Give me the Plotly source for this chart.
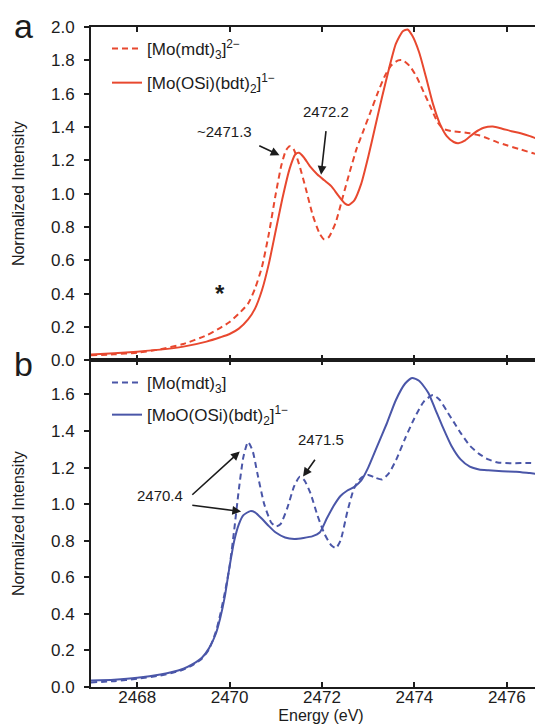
import plotly.graph_objects as go

# ---------------- data ----------------
# Panel a, [Mo(OSi)(bdt)2]1-  (solid)
energy_a_solid = [2467.0, 2467.5, 2468.0, 2468.5, 2469.0, 2469.5, 2469.8, 2470.0, 2470.2, 2470.4,
                  2470.55, 2470.7, 2470.85, 2471.0, 2471.15, 2471.3, 2471.42, 2471.5, 2471.6, 2471.75,
                  2471.9, 2472.05, 2472.2, 2472.35, 2472.5, 2472.58, 2472.7, 2472.85, 2473.0, 2473.15,
                  2473.3, 2473.45, 2473.6, 2473.75, 2473.85, 2473.95, 2474.1, 2474.25, 2474.4, 2474.55,
                  2474.7, 2474.85, 2474.95, 2475.1, 2475.3, 2475.5, 2475.7, 2475.9, 2476.1, 2476.3,
                  2476.5, 2476.7, 2476.96]
intensity_a_solid = [0.035, 0.042, 0.052, 0.064, 0.082, 0.112, 0.138, 0.158, 0.19, 0.245,
                     0.31, 0.42, 0.58, 0.78, 0.98, 1.15, 1.235, 1.245, 1.22, 1.16,
                     1.115, 1.08, 1.045, 0.99, 0.94, 0.932, 0.96, 1.06, 1.22, 1.40,
                     1.58, 1.75, 1.90, 1.975, 1.985, 1.95, 1.85, 1.70, 1.54, 1.42,
                     1.345, 1.31, 1.303, 1.32, 1.365, 1.395, 1.403, 1.39, 1.375, 1.362,
                     1.345, 1.325, 1.30]

# Panel a, [Mo(mdt)3]2-  (dashed)
energy_a_dash = [2467.0, 2467.5, 2468.0, 2468.5, 2469.0, 2469.5, 2469.8, 2470.0, 2470.2, 2470.4,
                 2470.55, 2470.7, 2470.85, 2471.0, 2471.12, 2471.22, 2471.3, 2471.38, 2471.5, 2471.65,
                 2471.8, 2471.95, 2472.05, 2472.15, 2472.3, 2472.45, 2472.6, 2472.75, 2472.9, 2473.05,
                 2473.2, 2473.35, 2473.5, 2473.65, 2473.75, 2473.9, 2474.05, 2474.2, 2474.35, 2474.5,
                 2474.62, 2474.8, 2475.0, 2475.2, 2475.4, 2475.6, 2475.8, 2476.0, 2476.3, 2476.6,
                 2476.96]
intensity_a_dash = [0.03, 0.036, 0.046, 0.066, 0.098, 0.15, 0.195, 0.23, 0.28, 0.34,
                    0.43, 0.56, 0.76, 1.0, 1.17, 1.26, 1.285, 1.27, 1.18, 1.03,
                    0.87, 0.76, 0.725, 0.74, 0.83, 0.98, 1.13, 1.27, 1.38, 1.49,
                    1.60, 1.70, 1.77, 1.80, 1.80, 1.765, 1.70, 1.61, 1.52, 1.43,
                    1.39, 1.375, 1.37, 1.362, 1.35, 1.33, 1.308, 1.29, 1.265, 1.24,
                    1.215]

# Panel b, [MoO(OSi)(bdt)2]1-  (solid)
energy_b_solid = [2467.0, 2467.5, 2468.0, 2468.5, 2468.8, 2469.0, 2469.2, 2469.4, 2469.55, 2469.7,
                  2469.8, 2469.9, 2470.0, 2470.1, 2470.2, 2470.3, 2470.45, 2470.55, 2470.7, 2470.85,
                  2471.0, 2471.2, 2471.4, 2471.6, 2471.8, 2471.95, 2472.1, 2472.25, 2472.4, 2472.55,
                  2472.7, 2472.85, 2473.0, 2473.2, 2473.4, 2473.6, 2473.8, 2473.95, 2474.1, 2474.3,
                  2474.45, 2474.6, 2474.8, 2475.0, 2475.2, 2475.4, 2475.6, 2475.9, 2476.2, 2476.5,
                  2476.96]
intensity_b_solid = [0.035, 0.04, 0.05, 0.068, 0.085, 0.10, 0.125, 0.16, 0.21, 0.29,
                     0.38, 0.50, 0.66, 0.80, 0.89, 0.94, 0.962, 0.955, 0.92, 0.88,
                     0.845, 0.818, 0.81, 0.815, 0.825, 0.845, 0.92, 0.99, 1.045, 1.075,
                     1.095, 1.13, 1.20, 1.32, 1.44, 1.57, 1.66, 1.69, 1.675, 1.61,
                     1.52, 1.43, 1.32, 1.245, 1.205, 1.19, 1.185, 1.18, 1.178, 1.17,
                     1.157]

# Panel b, [Mo(mdt)3]  (dashed)
energy_b_dash = [2467.0, 2467.5, 2468.0, 2468.5, 2468.8, 2469.0, 2469.2, 2469.4, 2469.55, 2469.7,
                 2469.8, 2469.9, 2470.0, 2470.1, 2470.2, 2470.3, 2470.4, 2470.5, 2470.6, 2470.75,
                 2470.9, 2471.0, 2471.1, 2471.25, 2471.4, 2471.52, 2471.62, 2471.75, 2471.9, 2472.05,
                 2472.2, 2472.3, 2472.4, 2472.55, 2472.7, 2472.85, 2473.0, 2473.15, 2473.3, 2473.45,
                 2473.6, 2473.8, 2474.0, 2474.2, 2474.4, 2474.55, 2474.7, 2474.85, 2475.0, 2475.2,
                 2475.4, 2475.6, 2475.8, 2476.1, 2476.5, 2476.96]
intensity_b_dash = [0.025, 0.032, 0.045, 0.063, 0.08, 0.095, 0.12, 0.155, 0.205, 0.30,
                    0.40, 0.52, 0.66, 0.86, 1.08, 1.26, 1.34, 1.29, 1.17, 1.0,
                    0.9, 0.878, 0.89, 0.98, 1.10, 1.15, 1.13, 1.06, 0.94, 0.84,
                    0.775, 0.76, 0.80, 0.96, 1.09, 1.145, 1.16, 1.145, 1.135, 1.17,
                    1.24, 1.36, 1.47, 1.56, 1.597, 1.57, 1.51, 1.45, 1.39, 1.32,
                    1.275, 1.245, 1.228, 1.224, 1.225, 1.215]

energy_ticks = [2468, 2470, 2472, 2474, 2476]
ticks_a = [0.0, 0.2, 0.4, 0.6, 0.8, 1.0, 1.2, 1.4, 1.6, 1.8, 2.0]
ticks_b = [0.0, 0.2, 0.4, 0.6, 0.8, 1.0, 1.2, 1.4, 1.6]

names_a = ["[Mo(mdt)<sub>3</sub>]<sup>2\u2212</sup>", "[Mo(OSi)(bdt)<sub>2</sub>]<sup>1\u2212</sup>"]
names_b = ["[Mo(mdt)<sub>3</sub>]", "[MoO(OSi)(bdt)<sub>2</sub>]<sup>1\u2212</sup>"]

# ---------------- styling ----------------
RED = "#E8482F"
BLUE = "#4A56A8"
INK = "#1c1c1c"
FONT = "Liberation Sans, Arial, sans-serif"
W, H = 543, 727
L, R, T, B = 83, 0, 19, 48
XRANGE = [2467.0, 2467.0 + 460 / 46.2]
SPLIT = (679 - 352.3) / 660.0
DASH = "6px,4px"

fig = go.Figure()

fig.add_trace(go.Scatter(x=energy_a_dash, y=intensity_a_dash, mode="lines", name=names_a[0],
                         line=dict(color=RED, width=2, dash=DASH, shape="spline", smoothing=0.6),
                         xaxis="x2", yaxis="y2", legend="legend", legendgroup="a1"))
fig.add_trace(go.Scatter(x=energy_a_solid, y=intensity_a_solid, mode="lines", name=names_a[1],
                         line=dict(color=RED, width=2, shape="spline", smoothing=0.6),
                         xaxis="x2", yaxis="y2", legend="legend", legendgroup="a2"))
fig.add_trace(go.Scatter(x=energy_b_dash, y=intensity_b_dash, mode="lines", name=names_b[0],
                         line=dict(color=BLUE, width=2, dash=DASH, shape="spline", smoothing=0.6),
                         xaxis="x", yaxis="y", legend="legend2", legendgroup="b1"))
fig.add_trace(go.Scatter(x=energy_b_solid, y=intensity_b_solid, mode="lines", name=names_b[1],
                         line=dict(color=BLUE, width=2, shape="spline", smoothing=0.6),
                         xaxis="x", yaxis="y", legend="legend2", legendgroup="b2"))
# empty helper traces so the right-hand tick axes get drawn
fig.add_trace(go.Scatter(x=[None], y=[None], xaxis="x", yaxis="y3", showlegend=False, hoverinfo="skip"))
fig.add_trace(go.Scatter(x=[None], y=[None], xaxis="x2", yaxis="y4", showlegend=False, hoverinfo="skip"))

xcommon = dict(range=XRANGE, tickvals=energy_ticks, ticks="inside", ticklen=5, tickwidth=1.6,
               tickcolor=INK, showline=True, linewidth=2, linecolor=INK, mirror="ticks",
               showgrid=False, zeroline=False)
ycommon = dict(tickformat=".1f", ticks="outside", ticklen=5, tickwidth=1.6, tickcolor=INK,
               showline=True, linewidth=2, linecolor=INK, mirror=False, showgrid=False,
               zeroline=False, ticklabelstandoff=6)
yright = dict(side="right", ticks="inside", ticklen=5, tickwidth=1.6, tickcolor=INK,
              showticklabels=False, showline=False, showgrid=False, zeroline=False)

fig.update_layout(
    width=W, height=H,
    margin=dict(l=L, r=R, t=T, b=B),
    paper_bgcolor="white", plot_bgcolor="white",
    font=dict(family=FONT, size=17, color=INK),
    xaxis=dict(domain=[0, 1], anchor="y", ticklabelstandoff=-6,
               title=dict(text="Energy (eV)", font=dict(size=16), standoff=0),
               **xcommon),
    yaxis=dict(domain=[0, SPLIT], anchor="x", range=[0, 1.787], tickvals=ticks_b,
               title=dict(text="Normalized Intensity", font=dict(size=16), standoff=22), **ycommon),
    xaxis2=dict(domain=[0, 1], anchor="y2", showticklabels=False, **xcommon),
    yaxis2=dict(domain=[SPLIT, 1], anchor="x2", range=[0, 2.0], tickvals=ticks_a,
                title=dict(text="Normalized Intensity", font=dict(size=16), standoff=22), **ycommon),
    yaxis3=dict(overlaying="y", anchor="x", range=[0, 1.787], tickvals=ticks_b, **yright),
    yaxis4=dict(overlaying="y2", anchor="x2", range=[0, 2.0], tickvals=ticks_a, **yright),
    legend=dict(x=(99 - L) / 460, y=(679 - 23) / 660, xanchor="left", yanchor="top",
                bgcolor="rgba(0,0,0,0)", font=dict(size=17), tracegroupgap=9, itemwidth=30),
    legend2=dict(x=(99 - L) / 460, y=(679 - 357) / 660, xanchor="left", yanchor="top",
                 bgcolor="rgba(0,0,0,0)", font=dict(size=17), tracegroupgap=7, itemwidth=30),
)

# ---------------- annotations ----------------
ann = []
def text(x, y, s, xr, yr, size=15):
    ann.append(dict(x=x, y=y, xref=xr, yref=yr, text=s, showarrow=False,
                    font=dict(size=size, color=INK), xanchor="center", yanchor="middle"))

def arrow(x0, y0, x1, y1, xr, yr):
    ann.append(dict(x=x1, y=y1, ax=x0, ay=y0, xref=xr, yref=yr, axref=xr, ayref=yr,
                    text="", showarrow=True, arrowhead=2, arrowsize=1.1, arrowwidth=1.6,
                    arrowcolor=INK, standoff=0, startstandoff=0))

# panel a
text(2469.90, 1.375, "~2471.3", "x2", "y2")
arrow(2470.61, 1.292, 2471.08, 1.230, "x2", "y2")
text(2472.09, 1.495, "2472.2", "x2", "y2")
arrow(2472.09, 1.384, 2471.98, 1.114, "x2", "y2")
text(2469.80, 0.40, "<b>*</b>", "x2", "y2", size=24)
# panel b
text(2468.49, 1.05, "2470.4", "x", "y")
arrow(2469.16, 1.044, 2470.22, 1.288, "x", "y")
arrow(2469.16, 0.995, 2470.25, 0.960, "x", "y")
text(2471.98, 1.356, "2471.5", "x", "y")
arrow(2471.87, 1.251, 2471.59, 1.151, "x", "y")
# panel letters
ann.append(dict(x=(15 - L) / 460, y=(679 - 18) / 660, xref="paper", yref="paper", text="a",
                showarrow=False, font=dict(size=34, color=INK), xanchor="center", yanchor="middle"))
ann.append(dict(x=(15 - L) / 460, y=(679 - 356) / 660, xref="paper", yref="paper", text="b",
                showarrow=False, font=dict(size=34, color=INK), xanchor="center", yanchor="middle"))

fig.update_layout(annotations=ann)

fig.write_html("out.html")
